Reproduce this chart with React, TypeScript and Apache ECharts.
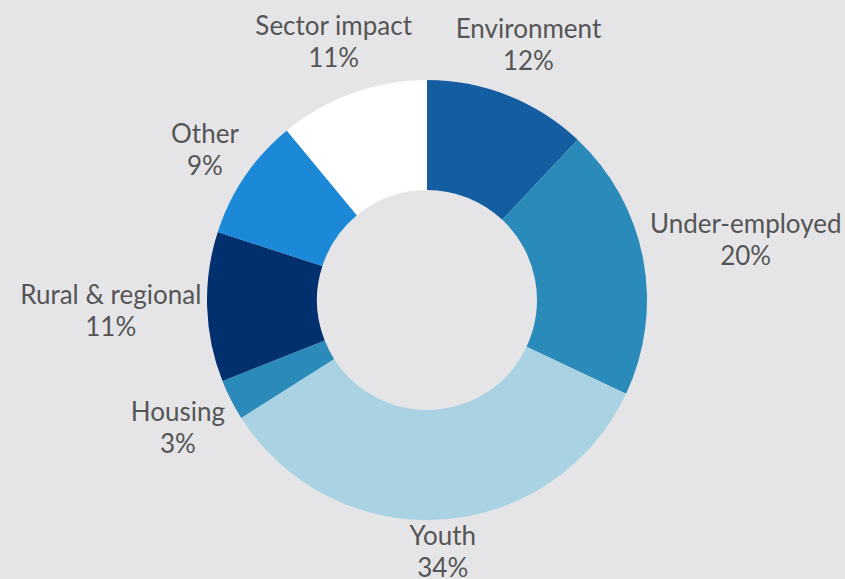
import React, { useEffect, useRef } from "react";
import * as echarts from "echarts";

const categories = ["Environment", "Under-employed", "Youth", "Housing", "Rural & regional", "Other", "Sector impact"];
const values = [12, 20, 34, 3, 11, 9, 11];
const colors = ["#155da1", "#2a8aba", "#a9d2e3", "#2a8aba", "#022f6e", "#1c89d8", "#ffffff"];

const CX = 427;
const CY = 300;
const R_IN = 110;
const R_OUT = 220;
const GAP_X = 5;
const GAP_Y = -3;

export default function App() {
  const ref = useRef<HTMLDivElement>(null);
  useEffect(() => {
    if (!ref.current) return;
    const chart = echarts.init(ref.current, null, { renderer: "svg" });
    const total = values.reduce((a, b) => a + b, 0);
    const mids: number[] = [];
    let acc = 0;
    values.forEach((v) => {
      mids.push(((acc + v / 2) / total) * Math.PI * 2);
      acc += v;
    });
    chart.setOption({
      animation: false,
      backgroundColor: "#e5e5e8",
      series: [
        {
          type: "pie",
          center: [CX, CY],
          radius: [R_IN, R_OUT],
          startAngle: 90,
          clockwise: true,
          avoidLabelOverlap: false,
          data: categories.map((name, i) => ({
            name,
            value: values[i],
            itemStyle: { color: colors[i] },
          })),
          label: {
            show: true,
            position: "outside",
            formatter: "{b}\n{c}%",
            color: "#555555",
            fontFamily: "Lato",
            fontSize: 26,
            lineHeight: 32,
            align: "center",
          },
          labelLine: { show: false },
          labelLayout: (params: any) => {
            const i = params.dataIndex;
            const th = mids[i];
            const sx = Math.sin(th);
            const sy = -Math.cos(th);
            const w = params.labelRect.width;
            const h = params.labelRect.height;
            const t = R_OUT + (w / 2 + GAP_X) * Math.abs(sx) + (h / 2 + GAP_Y) * Math.abs(sy);
            return {
              x: CX + sx * t,
              y: CY + sy * t,
              align: "center",
              verticalAlign: "middle",
            };
          },
        },
      ],
    });
    return () => chart.dispose();
  }, []);
  return (
    <div
      ref={ref}
      style={{ position: "fixed", left: 0, top: 0, width: 845, height: 579 }}
    />
  );
}
